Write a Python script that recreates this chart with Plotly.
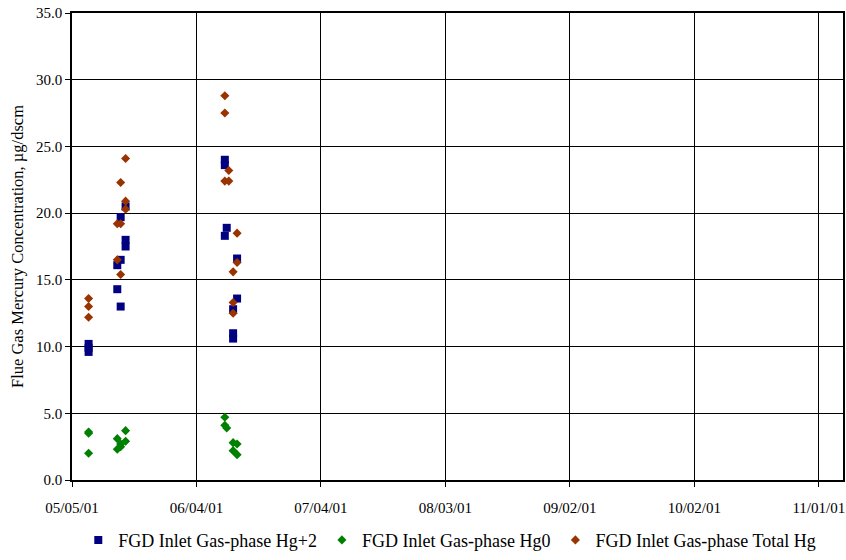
import plotly.graph_objects as go

# ---- data ----
hg2_dates = ["2001-05-09 00:00", "2001-05-09 00:00", "2001-05-09 00:00",
             "2001-05-15 22:00", "2001-05-15 22:00",
             "2001-05-16 17:30", "2001-05-16 17:30", "2001-05-16 17:30",
             "2001-05-17 22:00", "2001-05-17 22:00", "2001-05-17 22:00",
             "2001-06-10 20:00", "2001-06-10 20:00", "2001-06-10 20:00",
             "2001-06-11 07:00",
             "2001-06-12 20:00", "2001-06-12 20:00", "2001-06-12 20:00",
             "2001-06-13 19:00", "2001-06-13 19:00"]
hg2_values = [10.2, 9.9, 9.6,
              16.1, 14.3,
              19.7, 16.5, 13.0,
              20.5, 18.0, 17.5,
              24.0, 23.6, 18.3,
              18.9,
              12.8, 11.0, 10.6,
              16.6, 13.6]

hg0_dates = ["2001-05-09 00:00", "2001-05-09 00:00", "2001-05-09 00:00",
             "2001-05-15 22:00", "2001-05-15 22:00",
             "2001-05-16 17:30", "2001-05-16 17:30",
             "2001-05-17 22:00", "2001-05-17 22:00",
             "2001-06-10 20:00", "2001-06-10 20:00",
             "2001-06-11 07:00",
             "2001-06-12 20:00", "2001-06-12 20:00",
             "2001-06-13 19:00", "2001-06-13 19:00"]
hg0_values = [3.6, 3.5, 2.0,
              3.1, 2.3,
              2.7, 2.5,
              3.7, 2.9,
              4.7, 4.1,
              3.9,
              2.8, 2.2,
              2.7, 1.9]

total_dates = ["2001-05-09 00:00", "2001-05-09 00:00", "2001-05-09 00:00",
               "2001-05-15 22:00", "2001-05-15 22:00",
               "2001-05-16 17:30", "2001-05-16 17:30", "2001-05-16 17:30",
               "2001-05-17 22:00", "2001-05-17 22:00", "2001-05-17 22:00",
               "2001-06-10 20:00", "2001-06-10 20:00", "2001-06-10 20:00",
               "2001-06-11 19:00", "2001-06-11 19:00",
               "2001-06-12 20:00", "2001-06-12 20:00", "2001-06-12 20:00",
               "2001-06-13 19:00", "2001-06-13 19:00"]
total_values = [13.6, 13.0, 12.2,
                19.2, 16.5,
                22.3, 19.2, 15.4,
                24.1, 20.9, 20.3,
                28.8, 27.5, 22.4,
                23.2, 22.4,
                15.6, 13.3, 12.5,
                18.5, 16.3]

x_tick_vals = ["2001-05-05", "2001-06-04", "2001-07-04", "2001-08-03",
               "2001-09-02", "2001-10-02", "2001-11-01"]
x_tick_text = ["05/05/01", "06/04/01", "07/04/01", "08/03/01",
               "09/02/01", "10/02/01", "11/01/01"]
y_tick_vals = [0, 5, 10, 15, 20, 25, 30, 35]
y_tick_text = ["0.0", "5.0", "10.0", "15.0", "20.0", "25.0", "30.0", "35.0"]

series_names = ["FGD Inlet Gas-phase Hg+2", "FGD Inlet Gas-phase Hg0",
                "FGD Inlet Gas-phase Total Hg"]

FONT = "Liberation Serif"

fig = go.Figure()
fig.add_trace(go.Scatter(x=hg2_dates, y=hg2_values, mode="markers",
                         name=series_names[0],
                         marker=dict(symbol="square", size=8, color="#000080")))
fig.add_trace(go.Scatter(x=hg0_dates, y=hg0_values, mode="markers",
                         name=series_names[1],
                         marker=dict(symbol="diamond", size=7, color="#008000")))
fig.add_trace(go.Scatter(x=total_dates, y=total_values, mode="markers",
                         name=series_names[2],
                         marker=dict(symbol="diamond", size=7, color="#993300")))

fig.update_layout(
    width=846, height=560,
    margin=dict(l=72, r=3, t=13, b=79, pad=0),
    paper_bgcolor="white", plot_bgcolor="white",
    font=dict(family=FONT, size=15, color="black"),
    showlegend=True,
    legend=dict(orientation="h", x=0.49, xanchor="center",
                y=-0.166, yanchor="bottom",
                font=dict(family=FONT, size=18, color="black"),
                bgcolor="rgba(0,0,0,0)", itemwidth=30,
                tracegroupgap=0),
    xaxis=dict(type="date", range=["2001-05-05", "2001-11-06 20:00"],
               tickvals=x_tick_vals, ticktext=x_tick_text,
               showgrid=True, gridcolor="black", gridwidth=1,
               showline=True, linecolor="black", linewidth=1.5, mirror=True,
               ticks="outside", ticklen=5, tickcolor="black",
               ticklabelstandoff=8,
               tickfont=dict(family=FONT, size=15, color="black"),
               zeroline=False, automargin=False),
    yaxis=dict(range=[0, 35], tickvals=y_tick_vals, ticktext=y_tick_text,
               showgrid=True, gridcolor="black", gridwidth=1,
               showline=True, linecolor="black", linewidth=1.5, mirror=True,
               ticks="outside", ticklen=5, tickcolor="black",
               tickfont=dict(family=FONT, size=15, color="black"),
               title=dict(text="Flue Gas Mercury Concentration, µg/dscm",
                          font=dict(family=FONT, size=16.5, color="black"),
                          standoff=8),
               zeroline=False, automargin=False),
)

fig.write_html("out.html")
